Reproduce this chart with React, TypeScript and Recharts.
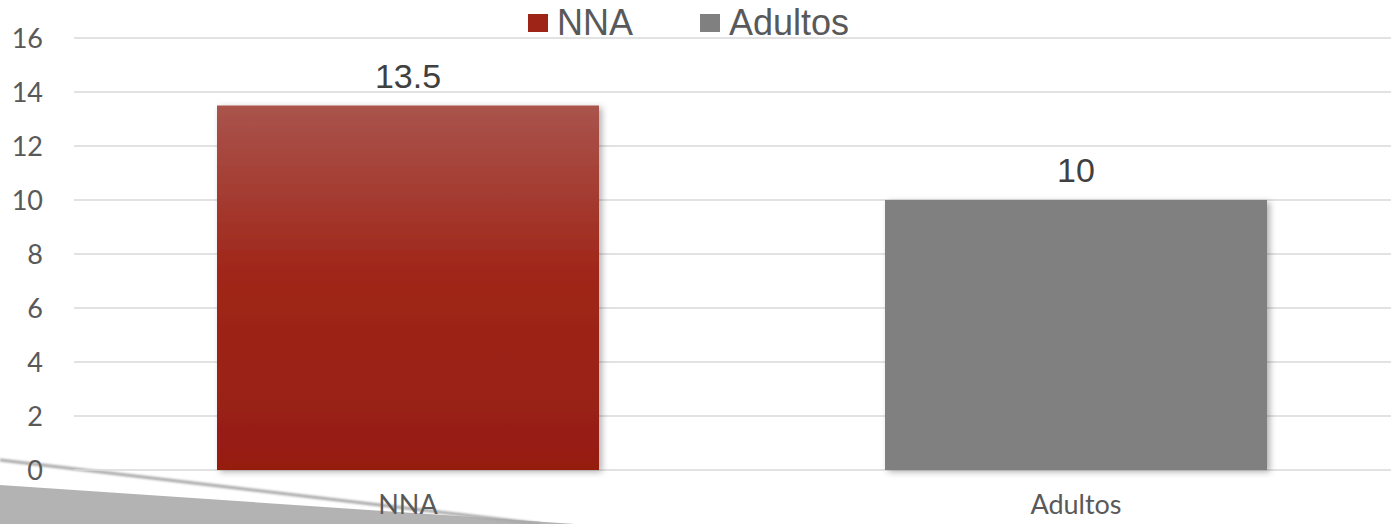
import { Bar, BarChart, CartesianGrid, Cell, LabelList, XAxis, YAxis } from 'recharts'

const categories = ['NNA', 'Adultos']
const values = [13.5, 10]
const yTicks = [0, 2, 4, 6, 8, 10, 12, 14, 16]
const colors = ['url(#nnaGrad)', '#808080']
const legendColors = ['#9e2418', '#808080']

const data = categories.map((name, i) => ({ name, value: values[i] }))

const TEXT = '#595959'

export default function App() {
  return (
    <div style={{ position: 'absolute', left: 0, top: 0, width: 1391, height: 524, overflow: 'hidden', background: '#fff' }}>
      {/* decorative swoosh in the lower left */}
      <svg width={1391} height={524} style={{ position: 'absolute', left: 0, top: 0 }}>
        <defs>
          <filter id="blurLine"><feGaussianBlur stdDeviation="1" /></filter>
        </defs>
        <polygon points="0,485 575,524 0,524" fill="#b3b3b3" />
        <line x1={0} y1={460} x2={540} y2={524} stroke="#a8a8a8" strokeWidth={3} filter="url(#blurLine)" />
      </svg>

      <div style={{ position: 'absolute', left: 0, top: 0 }}>
        <BarChart width={1410} height={524} data={data} margin={{ top: 38, right: 0, bottom: 0, left: 0 }}>
          <defs>
            <linearGradient id="nnaGrad" x1="0" y1="0" x2="0" y2="1">
              <stop offset="0%" stopColor="#a9544c" />
              <stop offset="45%" stopColor="#a0271a" />
              <stop offset="100%" stopColor="#961d11" />
            </linearGradient>
            <filter id="barShadow" x="-5%" y="-5%" width="115%" height="115%">
              <feDropShadow dx="3" dy="2" stdDeviation="3" floodColor="#000" floodOpacity="0.3" />
            </filter>
          </defs>
          <CartesianGrid horizontal vertical={false} stroke="#d9d9d9" strokeWidth={1.5} />
          <XAxis dataKey="name" height={54} axisLine={false} tickLine={false} tickMargin={19}
                 tick={{ fontSize: 27, fill: TEXT, fontFamily: 'Lato' }} />
          <YAxis width={74} domain={[0, 16]} ticks={yTicks} axisLine={false} tickLine={false} tickMargin={25}
                 tick={{ fontSize: 27, fill: TEXT, fontFamily: 'Lato' }} />
          <Bar dataKey="value" barSize={382} isAnimationActive={false} filter="url(#barShadow)">
            {data.map((d, i) => <Cell key={d.name} fill={colors[i]} />)}
            <LabelList dataKey="value" position="top" offset={18}
                       style={{ fontSize: 34, fill: '#404040', fontFamily: 'Liberation Sans' }} />
          </Bar>
        </BarChart>
      </div>

      {/* legend */}
      <div style={{ position: 'absolute', left: 528, top: 2, display: 'flex', alignItems: 'center', fontFamily: 'Liberation Sans', fontSize: 36, color: TEXT }}>
        {categories.map((c, i) => (
          <div key={c} style={{ display: 'flex', alignItems: 'center', marginRight: i === 0 ? 67 : 0 }}>
            <span style={{ width: 20, height: 18, background: legendColors[i], marginRight: 9, display: 'inline-block' }} />
            <span>{c}</span>
          </div>
        ))}
      </div>
    </div>
  )
}
